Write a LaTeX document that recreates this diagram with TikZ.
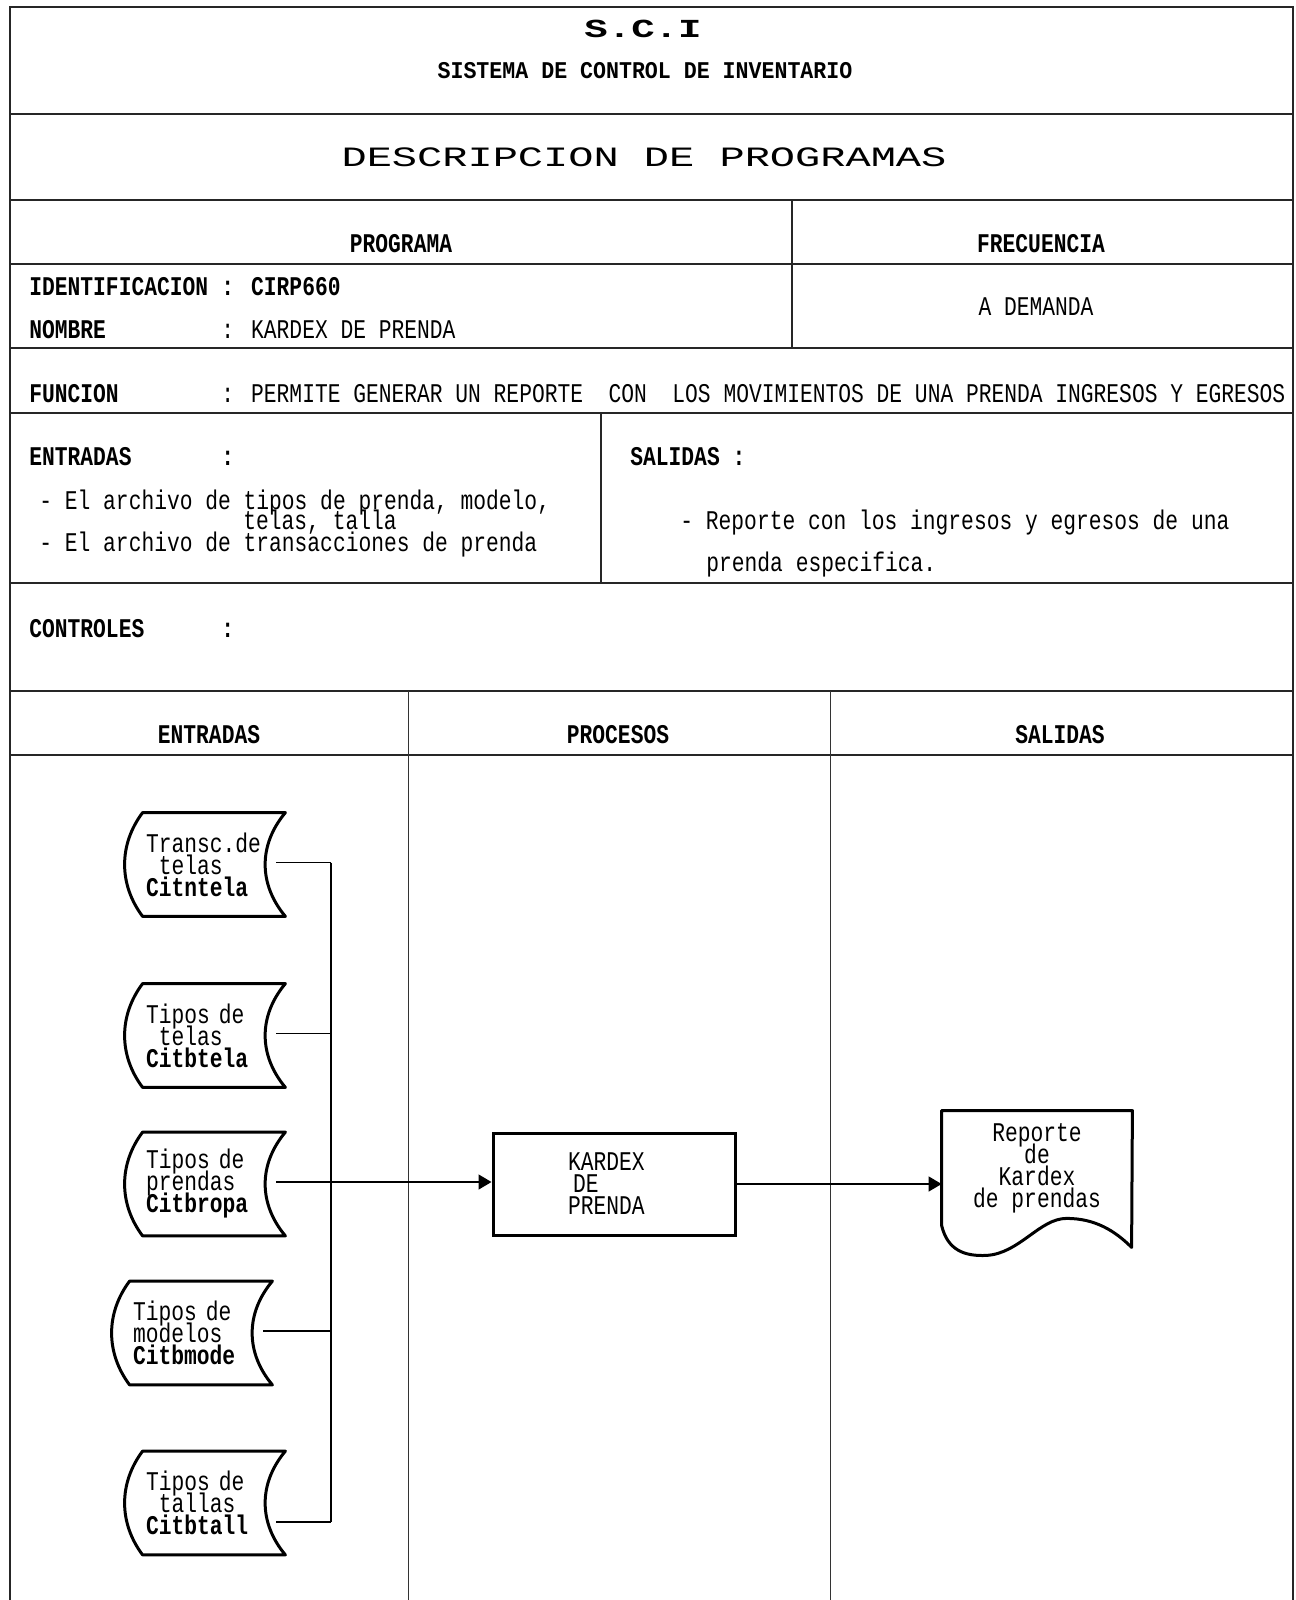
\documentclass[tikz,border=0pt]{standalone}
\usepackage{fontspec}
\setmainfont{Liberation Mono}[FakeStretch=0.788]
\newfontfamily\anchafont{Liberation Mono}[FakeStretch=1.5]
\newfontfamily\medianafont{Liberation Mono}[FakeStretch=0.9]
\usetikzlibrary{calc,arrows.meta}

\newcommand{\letra}{\fontsize{13.5}{11}\selectfont\lineskiplimit=-100pt}

\tikzstyle{marco}=[line width=0.8pt, black!85]
\tikzstyle{columna}=[line width=0.5pt, black!80]
\tikzstyle{texto}=[inner sep=0pt, anchor=base west, font=\letra]
\tikzstyle{etiqueta}=[inner sep=0pt, anchor=base west, font=\letra\bfseries]
\tikzstyle{titulo}=[inner sep=0pt, anchor=base, font=\letra\bfseries]
\tikzstyle{centrado}=[inner sep=0pt, anchor=base, font=\letra]
\tikzstyle{archivo}=[minimum width=71pt, minimum height=51.5pt, text width=68pt, inner xsep=1.5pt, inner ysep=0pt, align=left, font=\letra]
\tikzstyle{proceso}=[draw, line width=1.5pt, minimum width=121pt, minimum height=51pt, text width=46pt, inner xsep=37.5pt, inner ysep=0pt, align=left, font=\letra]
\tikzstyle{reporte}=[minimum width=95pt, minimum height=57pt, inner sep=0pt, align=center, font=\letra]
\tikzstyle{contorno}=[line width=1.5pt, line join=round]
\tikzstyle{flujo}=[line width=0.7pt]
\tikzstyle{flecha}=[flujo, -{Triangle[length=6.5pt,width=7.5pt]}]

\begin{document}
\begin{tikzpicture}[x=0.5pt, y=-0.5pt]
				\useasboundingbox (0,0) rectangle (1295,1600);

				% Marco de la hoja
				\draw[marco] (10,1600) -- (10,7) -- (1293,7) -- (1293,1600);
				\foreach \y in {114, 200, 264, 348, 413, 583, 691, 755}{ \draw[marco] (10,\y) -- (1293,\y); }
				\draw[marco] (792,200) -- (792,348);
				\draw[marco] (601,413) -- (601,583);
				\foreach \x in {408, 830}{ \draw[columna] (\x,691) -- (\x,1600); }

				% Encabezado
				\node[titulo, font=\anchafont\fontsize{13}{13}\selectfont\bfseries] (sci) at (643,38) {S.C.I};
				\node[titulo, font=\medianafont\fontsize{12}{12}\selectfont\bfseries] (sistema) at (645,79) {SISTEMA DE CONTROL DE INVENTARIO};
				\node[centrado, font=\anchafont\fontsize{14}{14}\selectfont] (descripcion) at (644,166) {DESCRIPCION DE PROGRAMAS};

				\node[titulo] (programa) at (401,252) {PROGRAMA};
				\node[titulo] (frecuencia) at (1041,252) {FRECUENCIA};
				\node[etiqueta] (ident) at (29,295) {IDENTIFICACION};
				\node[etiqueta] (identval) at (221,295) {: CIRP660};
				\node[etiqueta] (nombre) at (29,338) {NOMBRE};
				\node[texto] (nombreval) at (221,338) {: KARDEX DE PRENDA};
				\node[centrado] (demanda) at (1036,315) {A DEMANDA};

				\node[etiqueta] (funcion) at (29,402) {FUNCION};
				\node[texto] (funcionval) at (221,402) {: PERMITE GENERAR UN REPORTE\hspace*{6.38pt} CON\hspace*{6.38pt} LOS MOVIMIENTOS DE UNA PRENDA INGRESOS Y EGRESOS};

				\node[etiqueta] (entradas) at (29,465) {ENTRADAS};
				\node[etiqueta] (entradasdp) at (221,465) {:};
				\node[texto] (ent1) at (39,509) {- El archivo de tipos de prenda, modelo,};
				\node[texto] (ent2) at (243,529) {telas, talla};
				\node[texto] (ent3) at (39,551) {- El archivo de transacciones de prenda};
				\node[etiqueta] (salidas) at (630,465) {SALIDAS :};
				\node[texto] (sal1) at (680,529) {- Reporte con los ingresos y egresos de una};
				\node[texto] (sal2) at (706,571) {prenda especifica.};

				\node[etiqueta] (controles) at (29,637) {CONTROLES};
				\node[etiqueta] (controlesdp) at (221,637) {:};

				\node[titulo] (colent) at (209,743) {ENTRADAS};
				\node[titulo] (colpro) at (618,743) {PROCESOS};
				\node[titulo] (colsal) at (1060,743) {SALIDAS};

				% Archivos de entrada
				\node[archivo] (t1) at (214,864.5) {Transc.de\\\phantom{-}telas\\\textbf{Citntela}};
				\node[archivo] (t2) at (214,1035.5) {Tipos de\\\phantom{-}telas\\\textbf{Citbtela}};
				\node[archivo] (t3) at (214,1184) {Tipos de\\prendas\\\textbf{Citbropa}};
				\node[archivo] (t4) at (201,1333) {Tipos de\\modelos\\\textbf{Citbmode}};
				\node[archivo] (t5) at (214,1503) {Tipos de\\\phantom{-}tallas\\\textbf{Citbtall}};
				\foreach \n in {t1, t2, t3, t4, t5}{
					\draw[contorno] (\n.north west) -- (\n.north east)
						.. controls ($(\n.north east)+(-27,32)$) and ($(\n.south east)+(-27,-32)$) .. (\n.south east)
						-- (\n.south west)
						.. controls ($(\n.south west)+(-24,-32)$) and ($(\n.north west)+(-24,32)$) .. cycle;
				}

				% Proceso y reporte
				\node[proceso] (proc) at (614,1184) {KARDEX\\\hspace*{2.5pt}DE\\PRENDA};
				\node[reporte] (rep) at (1037,1168) {Reporte\\de\\Kardex\\de prendas};
				\draw[contorno] (rep.south west)
					.. controls ($(rep.south west)+(6,25)$) and ($(rep.south west)+(23,31)$) .. ($(rep.south west)+(45,30)$)
					.. controls ($(rep.south west)+(78,28)$) and ($(rep.south west)+(98,-7)$) .. ($(rep.south west)+(125,-7)$)
					.. controls ($(rep.south west)+(153,-7)$) and ($(rep.south west)+(173,5)$) .. ($(rep.south west)+(190,22)$)
					-- (rep.north east) -- (rep.north west) -- cycle;

				% Conexiones
				\coordinate (bus) at (331,862);
				\foreach \n/\dy in {t1/-2, t2/-2, t3/-2, t4/-2, t5/19}{
					\coordinate (s\n) at ($(\n.east)+(-9,\dy)$);
					\draw[flujo] (s\n) -- (s\n -| bus);
				}
				\draw[flujo] (st1 -| bus) -- (st5 -| bus);
				\draw[flecha] (st3) -- (st3 -| proc.west);
				\draw[flecha] (proc.east) -- (proc.east -| rep.west);
			\end{tikzpicture}
\end{document}
